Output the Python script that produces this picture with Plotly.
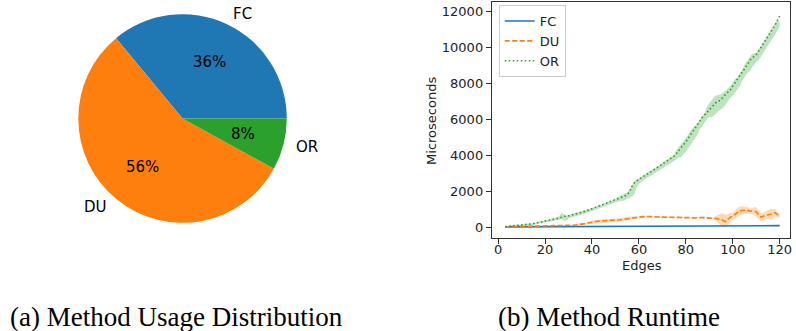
import math
import plotly.graph_objects as go

# ---- data -------------------------------------------------------------
methods = ["FC", "DU", "OR"]
usage_pct = [36, 56, 8]

edges = list(range(3, 121))

fc_mean = [5, 6, 7, 8, 9, 10, 10, 11, 12, 13, 14, 14, 15, 16, 17, 17, 18, 19,
           20, 20, 21, 22, 23, 23, 24, 25, 26, 26, 27, 28, 28, 29, 30, 30, 31, 32,
           32, 33, 34, 34, 35, 35, 36, 37, 37, 38, 38, 39, 40, 40, 41, 41, 42, 43,
           43, 44, 44, 45, 45, 46, 46, 47, 47, 48, 48, 49, 49, 50, 50, 51, 51, 52,
           52, 53, 53, 54, 54, 55, 55, 56, 56, 57, 57, 58, 58, 58, 59, 59, 60, 60,
           60, 61, 61, 62, 62, 62, 63, 63, 64, 64, 65, 65, 66, 66, 67, 67, 68, 68,
           69, 69, 70, 70, 71, 71, 72, 73, 74, 75]
fc_spread = [3] * 40 + [6] * 50 + [15] * 28

du_mean = [10, 12, 15, 18, 20, 22, 25, 28, 30, 32, 35, 38, 40, 42, 45, 48, 50, 52,
           55, 58, 60, 62, 65, 68, 70, 75, 78, 82, 90, 100, 110, 120, 135, 160, 190, 220,
           250, 280, 300, 320, 330, 340, 345, 350, 340, 350, 360, 370, 380, 400, 420, 440,
           460, 490, 520, 540, 550, 560, 570, 580, 590, 580, 570, 560, 560, 550, 550, 545,
           540, 540, 545, 540, 530, 540, 550, 520, 500, 510, 520, 530, 510, 500, 520, 540,
           530, 520, 510, 520, 530, 500, 470, 440, 420, 350, 300, 420, 550, 600, 700, 820,
           900, 920, 930, 950, 900, 880, 900, 850, 700, 550, 600, 650, 680, 700, 720, 800,
           700, 600]
du_spread = ([15] * 28 + [40] * 9 + [90] * 17 + [45] * 36 +
             [150, 250, 350, 400, 380, 300, 250, 200] +
             [220, 250, 250, 220, 200, 180, 150, 150, 200, 250] +
             [250, 230, 200, 200, 250, 300, 300, 200, 150, 100])

or_mean = [20, 30, 40, 50, 60, 75, 90, 110, 120, 130, 150, 170, 190, 215, 240, 265,
           290, 320, 350, 380, 410, 440, 470, 500, 540, 600, 590, 620, 660, 690, 720, 750,
           790, 830, 870, 920, 970, 1010, 1050, 1090, 1140, 1190, 1240, 1300, 1350, 1400,
           1450, 1500, 1550, 1610, 1670, 1730, 1800, 1950, 2250, 2450, 2570, 2660, 2740,
           2830, 2910, 2990, 3070, 3150, 3240, 3330, 3410, 3500, 3580, 3660, 3740, 3830,
           3950, 4100, 4250, 4400, 4550, 4750, 4950, 5150, 5350, 5550, 5700, 5900, 6100,
           6250, 6400, 6550, 6700, 6850, 6950, 7000, 7100, 7250, 7400, 7500, 7650, 7850,
           8050, 8250, 8450, 8650, 8850, 9050, 9250, 9400, 9500, 9600, 9800, 10000,
           10200, 10400, 10600, 10800, 11000, 11250, 11500, 11750]
or_spread = ([30] * 23 + [120, 220, 120] + [40] * 22 + [120] * 6 + [60] * 19 +
             [200] * 8 + [80] * 5 + [300, 350, 400, 400, 380, 350, 300, 250] +
             [200] * 5 + [100] * 3 + [200] * 5 + [80] * 10)

x_ticks = [0, 20, 40, 60, 80, 100, 120]
y_ticks = [0, 2000, 4000, 6000, 8000, 10000, 12000]

# ---- styling ----------------------------------------------------------
W, H = 796, 331
colors = {"FC": "#1f77b4", "DU": "#ff7f0e", "OR": "#2ca02c"}
bands = {"FC": "rgba(31,119,180,0.3)", "DU": "rgba(255,127,14,0.3)",
         "OR": "rgba(44,160,44,0.3)"}
dashes = {"FC": "solid", "DU": "5px,2.5px", "OR": "1.6px,2.4px"}
sans = "DejaVu Sans"
serif = "Liberation Serif"

fig = go.Figure()

# ---- (a) pie ----------------------------------------------------------
# wedges run counterclockwise starting at 3 o'clock; plotly's rotation for a
# counterclockwise pie marks where the first wedge ends (clockwise from 12)
cx, cy, r = 183.0, 118.5, 104.5
total = sum(usage_pct)
fig.add_trace(go.Pie(
    labels=methods, values=usage_pct, sort=False,
    direction="counterclockwise", rotation=90 - 360.0 * usage_pct[0] / total,
    marker=dict(colors=[colors[m] for m in methods], line=dict(width=0)),
    textinfo="none", hoverinfo="skip", showlegend=False,
    domain=dict(x=[(cx - r) / W, (cx + r) / W],
                y=[1 - (cy + r) / H, 1 - (cy - r) / H]),
))

annotations = []
start = 0.0
for name, val in zip(methods, usage_pct):
    span = 360.0 * val / total
    mid = math.radians(start + span / 2)
    start += span
    ca, sa = math.cos(mid), math.sin(mid)
    # outer label
    lx, ly = cx + 1.1 * r * ca, cy - 1.1 * r * sa
    annotations.append(dict(
        x=lx / W, y=1 - ly / H, xref="paper", yref="paper", text=name,
        showarrow=False, xanchor="left" if ca > 0 else "right", yanchor="middle",
        font=dict(family=sans, size=15, color="black")))
    # percentage inside the wedge
    px, py = cx + 0.6 * r * ca, cy - 0.6 * r * sa
    annotations.append(dict(
        x=px / W, y=1 - py / H, xref="paper", yref="paper",
        text=f"{val / total * 100:.0f}%", showarrow=False,
        xanchor="center", yanchor="middle",
        font=dict(family=sans, size=15, color="black")))

# ---- (b) runtime lines with spread bands -------------------------------
series = {"FC": (fc_mean, fc_spread), "DU": (du_mean, du_spread),
          "OR": (or_mean, or_spread)}
for name in methods:
    mean, spread = series[name]
    hi = [m + s for m, s in zip(mean, spread)]
    lo = [max(m - s, 0) for m, s in zip(mean, spread)]
    fig.add_trace(go.Scatter(
        x=edges + edges[::-1], y=hi + lo[::-1], fill="toself",
        fillcolor=bands[name], line=dict(width=0), mode="lines",
        hoverinfo="skip", showlegend=False, xaxis="x", yaxis="y"))
for name in methods:
    mean, _ = series[name]
    fig.add_trace(go.Scatter(
        x=edges, y=mean, mode="lines", name=name,
        line=dict(color=colors[name], width=1.6, dash=dashes[name]),
        xaxis="x", yaxis="y"))

ax_x0, ax_x1, ax_y0, ax_y1 = 493, 792, 2, 238
axis_common = dict(showgrid=False, zeroline=False, showline=True, mirror=True,
                   linecolor="#333", linewidth=1, ticks="outside", ticklen=5,
                   tickwidth=1, tickcolor="#333",
                   tickfont=dict(family=sans, size=13, color="#222"))
fig.update_layout(
    width=W, height=H, margin=dict(l=0, r=0, t=0, b=0),
    paper_bgcolor="white", plot_bgcolor="white",
    xaxis=dict(domain=[ax_x0 / W, ax_x1 / W], range=[-2.7, 124.4],
               tickvals=x_ticks, anchor="y", ticklabelstandoff=-6,
               **axis_common),
    yaxis=dict(domain=[1 - ax_y1 / H, 1 - ax_y0 / H], range=[-613, 12540],
               tickvals=y_ticks, tickformat="d", anchor="x", **axis_common),
    legend=dict(x=500 / W, y=1 - 5 / H, xanchor="left", yanchor="top",
                bgcolor="rgba(255,255,255,0.8)", bordercolor="#ccc",
                borderwidth=1, font=dict(family=sans, size=13, color="#222"),
                tracegroupgap=0, itemwidth=30),
    showlegend=True,
)

# axis titles
annotations.append(dict(x=644 / W, y=1 - 265 / H, xref="paper", yref="paper",
                        text="Edges", showarrow=False, xanchor="center",
                        yanchor="middle", font=dict(family=sans, size=13, color="#222")))
annotations.append(dict(x=433 / W, y=1 - 121 / H, xref="paper", yref="paper",
                        text="Microseconds", showarrow=False, textangle=-90,
                        xanchor="center", yanchor="middle",
                        font=dict(family=sans, size=13, color="#222")))

# sub-figure captions
annotations.append(dict(x=8 / W, y=1 - 317 / H, xref="paper", yref="paper",
                        text="(a) Method Usage Distribution", showarrow=False,
                        xanchor="left", yanchor="middle",
                        font=dict(family=serif, size=27, color="black")))
annotations.append(dict(x=497 / W, y=1 - 317 / H, xref="paper", yref="paper",
                        text="(b) Method Runtime", showarrow=False,
                        xanchor="left", yanchor="middle",
                        font=dict(family=serif, size=27, color="black")))

fig.update_layout(annotations=annotations)
fig.write_html("out.html")
